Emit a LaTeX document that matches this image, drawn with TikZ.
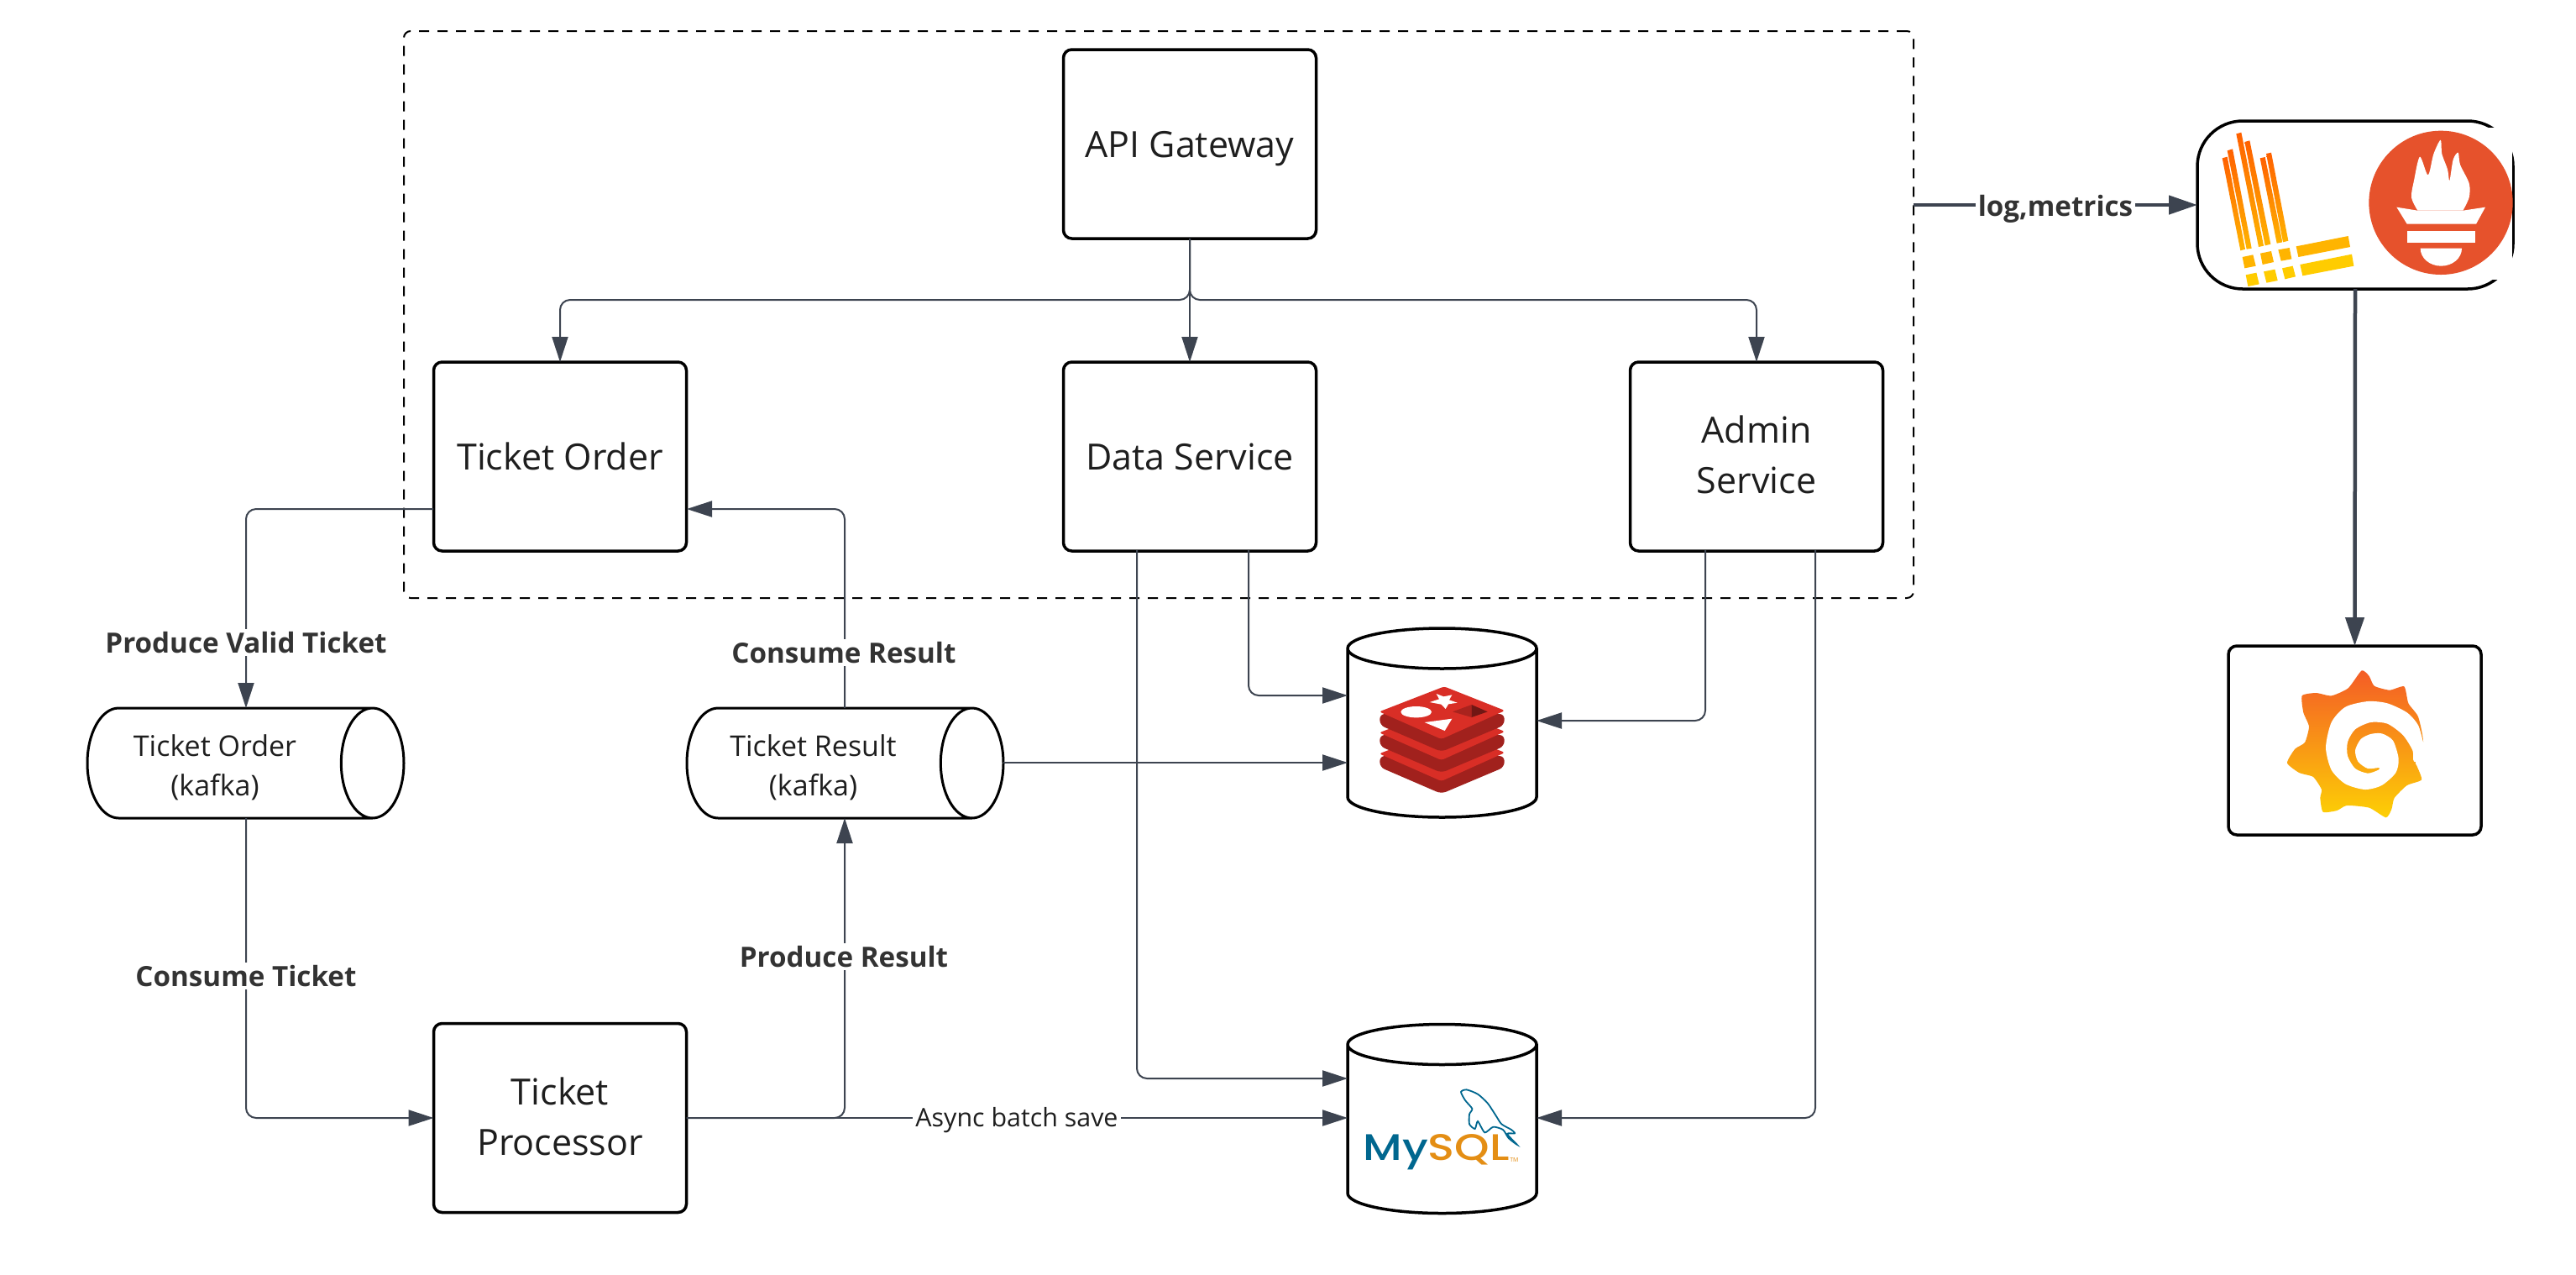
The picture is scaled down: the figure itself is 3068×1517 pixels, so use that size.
\documentclass[tikz,border=0pt]{standalone}
\usepackage{fontspec}
\setmainfont{Open Sans}
\newfontfamily\logofont{Poppins Medium}
\usetikzlibrary{arrows.meta,shapes.geometric}

\definecolor{connline}{HTML}{3D4450}
\definecolor{inkblack}{HTML}{1E1E1E}
\definecolor{labelgray}{HTML}{333333}
\definecolor{promorange}{HTML}{E6522C}
\definecolor{lokitop}{HTML}{FF6000}
\definecolor{lokimid}{HTML}{FFB400}
\definecolor{lokilow}{HTML}{FFCC00}
\definecolor{grafanatop}{HTML}{F45B26}
\definecolor{grafanamid}{HTML}{F7941D}
\definecolor{grafanalow}{HTML}{FDD005}
\definecolor{redistop}{HTML}{D92E26}
\definecolor{redisside}{HTML}{A1211D}
\definecolor{mysqlblue}{HTML}{00678F}
\definecolor{mysqlorange}{HTML}{E48E14}

\tikzset{
    box/.style={draw=black,fill=white,line width=1.75pt,rounded corners=5pt,outer sep=0pt,
        minimum width=150.5pt,minimum height=112.5pt,align=center,text=inkblack,text depth=0pt,
        font=\fontsize{21.5}{30}\selectfont},
    kafkacyl/.style={draw=black,fill=white,line width=1.5pt,cylinder,anchor=shape center,shape aspect=5.6,
        outer sep=0pt,minimum width=65.5pt,minimum height=188.5pt},
    kafkatext/.style={align=center,inner sep=0pt,text=inkblack,font=\fontsize{17}{23.5}\selectfont},
    dbcyl/.style={draw=black,fill=white,line width=1.75pt,cylinder,anchor=shape center,shape border rotate=90,
        shape aspect=3.6,outer sep=0pt,minimum width=112.5pt,minimum height=112.5pt},
    conn/.style={draw=connline,line width=1pt,rounded corners=6pt,-{Triangle[length=15pt,width=9.5pt]}},
    thickconn/.style={draw=connline,line width=2.25pt,-{Triangle[length=17pt,width=11pt]}},
    flowlabel/.style={fill=white,inner sep=1.5pt,text=labelgray,font=\fontsize{16.6}{21}\selectfont\bfseries},
    asynclabel/.style={fill=white,inner sep=1.5pt,text=inkblack,font=\fontsize{15.2}{19}\selectfont},
}

\begin{document}
\begin{tikzpicture}[x=0.5pt,y=-0.5pt]
    \useasboundingbox (0,0) rectangle (3068,1517);
    \fill[white] (0,0) rectangle (3068,1517);

    \node[draw=black,line width=1pt,dash pattern=on 6pt off 5pt,rounded corners=4pt,outer sep=0pt,
        minimum width=899pt,minimum height=337.5pt] (boundary) at (1380,374.5) {};

    \node[box] (apigw) at (1417,171.5) {API Gateway};
    \node[box] (ticketorder) at (667,543.5) {Ticket Order};
    \node[box] (dataservice) at (1417,543.5) {Data Service};
    \node[box,text depth=2pt] (adminservice) at (2092,543.5) {Admin\\Service};
    \node[box,text depth=2pt] (ticketprocessor) at (667,1331) {Ticket\\Processor};

    \node[kafkacyl] (orderkafka) at (292.5,908.5) {};
    \node[kafkacyl] (resultkafka) at (1006.5,908.5) {};
    \node[kafkatext] (orderkafkatext) at (256,914) {Ticket Order\\(kafka)};
    \node[kafkatext] (resultkafkatext) at (968.5,914) {Ticket Result\\(kafka)};

    \node[dbcyl] (redisdb) at (1717.5,860.5) {};
    \node[dbcyl] (mysqldb) at (1717.5,1332) {};

    \node[box,minimum width=188pt,minimum height=100pt,rounded corners=27pt] (monitor) at (2805,244) {};
    \node[box] (grafana) at (2804.5,881.5) {};

    % points where connectors leave or split
    \coordinate (fork) at (1417,357);
    \coordinate (orderout) at (516,606);
    \coordinate (orderin) at (818,606);
    \coordinate (datamysql) at (1354,655);
    \coordinate (dataredis) at (1487,655);
    \coordinate (adminredis) at (2031,655);
    \coordinate (adminmysql) at (2162,655);
    \coordinate (redisdata) at (1605,828);
    \coordinate (redisadmin) at (1830,858);
    \coordinate (rediskafka) at (1605,908);
    \coordinate (mysqldata) at (1605,1284);
    \coordinate (ordertop) at (293,843);
    \coordinate (orderbottom) at (293,974);
    \coordinate (resulttop) at (1006,843);
    \coordinate (resultbottom) at (1006,974);
    \coordinate (resultright) at (1195,908);
    \coordinate (mysqlleft) at (1605,1331);
    \coordinate (mysqlright) at (1830,1331);

    \draw[conn] (apigw.south) -- (fork) -| (ticketorder.north);
    \draw[conn] (apigw.south) -- (dataservice.north);
    \draw[conn] (apigw.south) -- (fork) -| (adminservice.north);

    \draw[conn] (orderout) -| (ordertop);
    \draw[conn] (orderbottom) |- (ticketprocessor.west);
    \draw[conn] (ticketprocessor.east) -| (resultbottom);
    \draw[conn] (resulttop) |- (orderin);
    \draw[conn] (resultright) -- (rediskafka);

    \draw[conn] (dataredis) |- (redisdata);
    \draw[conn] (datamysql) |- (mysqldata);
    \draw[conn] (adminredis) |- (redisadmin);
    \draw[conn] (adminmysql) |- (mysqlright);
    \draw[conn] (ticketprocessor.east) -- (mysqlleft);

    \draw[thickconn] (boundary.east |- monitor.west) -- (monitor.west);
    \draw[thickconn] (monitor.south) -- (grafana.north);

    \node[flowlabel] (producevalid) at (293,765) {Produce Valid Ticket};
    \node[flowlabel] (consumeticket) at (293,1162) {Consume Ticket};
    \node[flowlabel] (produceresult) at (1005,1139) {Produce Result};
    \node[flowlabel] (consumeresult) at (1005,777) {Consume Result};
    \node[asynclabel] (asyncsave) at (1211,1334) {Async batch save};
    \node[flowlabel] (logmetrics) at (2448,249) {log,metrics};

    % loki logo
    \begin{scope}[shift={(2600,120)},x=0.16667pt,y=-0.16667pt]
        \fill[white] (690,95) rectangle (1176,640);
        \shade[top color=lokitop,bottom color=lokimid] (140,205) -- (158,200) -- (222,530) -- (205,535) -- cycle;
        \shade[top color=lokitop,bottom color=lokimid] (158,178) -- (177,172) -- (245,527) -- (227,530) -- cycle;
        \shade[top color=lokitop,bottom color=lokimid] (190,118) -- (208,113) -- (288,518) -- (270,522) -- cycle;
        \shade[top color=lokitop,bottom color=lokimid] (220,147) -- (238,142) -- (313,512) -- (293,517) -- cycle;
        \shade[top color=lokitop,bottom color=lokimid] (275,205) -- (293,201) -- (355,505) -- (335,509) -- cycle;
        \shade[top color=lokitop,bottom color=lokimid] (297,189) -- (315,185) -- (376,500) -- (357,505) -- cycle;
        \fill[lokimid] (212,558) -- (250,550) -- (260,590) -- (220,598) -- cycle;
        \fill[lokimid] (276,545) -- (315,537) -- (324,576) -- (284,585) -- cycle;
        \fill[lokimid] (340,532) -- (380,525) -- (388,565) -- (350,572) -- cycle;
        \fill[lokimid] (404,520) -- (590,483) -- (597,522) -- (412,558) -- cycle;
        \fill[lokilow] (224,622) -- (262,614) -- (272,655) -- (232,663) -- cycle;
        \fill[lokilow] (288,610) -- (328,602) -- (338,642) -- (298,650) -- cycle;
        \fill[lokilow] (354,598) -- (392,590) -- (402,628) -- (364,637) -- cycle;
        \fill[lokilow] (418,585) -- (603,548) -- (610,590) -- (427,625) -- cycle;

        % prometheus logo
        \fill[promorange] (921,364) circle[radius=257];
        \fill[white] plot[smooth,tension=0.5] coordinates {(838,392) (816,345) (825,285) (846,200) (875,265) (895,190) (920,140) (925,190) (945,245) (952,285) (965,210) (983,185) (990,228) (1022,295) (1022,345) (1000,392)};
        \fill[white] (763,380) -- (838,392) -- (1000,392) -- (1080,380) -- (1047,440) -- (800,440) -- cycle;
        \fill[white] (800,465) rectangle (1044,507);
        \fill[white] (848,527) -- (996,527) arc[start angle=0,end angle=180,x radius=74,y radius=63] -- cycle;
    \end{scope}

    % grafana logo
    \begin{scope}[shift={(2680,760)},x=0.16667pt,y=-0.16667pt]
        \shade[top color=grafanatop,middle color=grafanamid,bottom color=grafanalow] plot[smooth cycle,tension=0.35] coordinates {(398,115) (425,135) (443,170) (498,185) (550,172) (565,232) (600,280) (618,370) (590,440) (595,455) (612,505) (560,525) (515,570) (505,610) (485,640) (425,605) (345,597) (310,615) (260,620) (250,570) (255,540) (225,495) (175,480) (132,445) (160,395) (195,372) (210,315) (190,265) (185,205) (235,195) (290,205) (350,178)};
        \fill[white] plot[smooth,tension=0.45] coordinates {(618,372) (600,310) (560,265) (490,232) (420,225) (340,245) (290,300) (270,390) (290,470) (340,520) (410,540) (470,525) (520,480) (530,430) (510,365) (470,340) (430,342) (395,360) (375,400) (385,440) (420,465) (460,462) (458,470) (420,482) (375,465) (348,420) (348,370) (375,325) (430,300) (490,305) (545,345) (580,400) (585,440) (625,440)} -- (625,372) -- cycle;
    \end{scope}

    % redis logo
    \begin{scope}[shift={(1600,740)},x=0.16667pt,y=-0.16667pt]
        \fill[redisside,rounded corners=3pt] (130,480) -- (575,480) -- (575,520) -- (350,615) -- (130,520) -- cycle;
        \fill[redistop,rounded corners=1.5pt] (360,382) -- (577,468) -- (350,570) -- (128,472) -- cycle;
        \fill[redisside,rounded corners=3pt] (130,405) -- (575,405) -- (575,445) -- (350,540) -- (130,445) -- cycle;
        \fill[redistop,rounded corners=1.5pt] (360,307) -- (577,393) -- (350,495) -- (128,397) -- cycle;
        \fill[redisside,rounded corners=3pt] (130,330) -- (575,330) -- (575,370) -- (350,465) -- (130,370) -- cycle;
        \fill[redistop,rounded corners=1.5pt] (360,232) -- (577,318) -- (350,420) -- (128,322) -- cycle;
        \fill[white] (260,323) ellipse[x radius=55,y radius=20];
        \fill[white] (332,258) -- (358,268) -- (388,262) -- (378,280) -- (407,290) -- (375,295) -- (365,312) -- (350,296) -- (308,288) -- (342,277) -- cycle;
        \fill[white] (290,360) -- (388,347) -- (362,390) -- cycle;
        \fill[redisside!85!redistop] (390,322) -- (458,297) -- (458,342) -- cycle;
        \fill[redisside!70!black] (458,297) -- (515,322) -- (458,342) -- cycle;
    \end{scope}

    % mysql logo
    \begin{scope}[shift={(1600,1220)},x=0.16667pt,y=-0.16667pt]
        \draw[mysqlblue,line width=0.9pt] plot[smooth cycle,tension=0.4] coordinates {(420,240) (440,232) (480,248) (515,280) (545,325) (565,355) (600,375) (612,388) (585,390) (620,428) (590,405) (570,375) (535,365) (505,385) (480,345) (470,372) (450,355) (450,320) (460,300) (435,270)};
        \node[inner sep=0pt,font=\logofont\fontsize{22}{22}\selectfont] (mysqltext) at (332,455) {\scalebox{1.2}[1]{\textcolor{mysqlblue}{My}\textcolor{mysqlorange}{SQL}}};
        \node[inner sep=0pt,text=mysqlorange,font=\fontsize{3.5}{4}\selectfont] (mysqltm) at (610,484) {TM};
    \end{scope}
\end{tikzpicture}
\end{document}
